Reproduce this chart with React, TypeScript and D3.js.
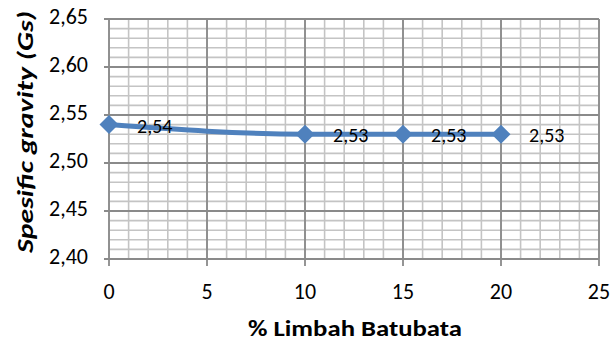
import React from "react";
import * as d3 from "d3";

// Specific gravity vs. % brick waste
const wastePct = [0, 10, 15, 20];
const gsValues = [2.54, 2.53, 2.53, 2.53];
const xTicks = [0, 5, 10, 15, 20, 25];
const yTicks = [2.4, 2.45, 2.5, 2.55, 2.6, 2.65];

const W = 613;
const H = 342;
const FONT = "Carlito, Lato, 'Open Sans', sans-serif";

export default function App() {
  const x = d3.scaleLinear().domain([0, 25]).range([109, 599]);
  const y = d3.scaleLinear().domain([2.4, 2.65]).range([259, 19]);

  const minorX = d3.range(0, 26, 1);
  const minorY = d3.range(0, 26).map((i) => 2.4 + i * 0.01);

  const pts: [number, number][] = wastePct.map((v, i) => [v, gsValues[i]]);
  const line = d3
    .line<[number, number]>()
    .x((d) => x(d[0]))
    .y((d) => y(d[1]))
    .curve(d3.curveMonotoneX);

  const fmt = (v: number) => v.toFixed(2).replace(".", ",");
  const diamond = (cx: number, cy: number, r: number) =>
    `M${cx},${cy - r}L${cx + r},${cy}L${cx},${cy + r}L${cx - r},${cy}Z`;

  return (
    <svg
      width={W}
      height={H}
      style={{ position: "absolute", left: 0, top: 0, background: "#fff" }}
      fontFamily={FONT}
    >
      {/* minor grid */}
      <g stroke="#c4c4c4" strokeWidth={1.6}>
        {minorX.map((v) => (
          <line key={"mx" + v} x1={x(v)} x2={x(v)} y1={y(2.4)} y2={y(2.65)} />
        ))}
        {minorY.map((v, i) => (
          <line key={"my" + i} x1={x(0)} x2={x(25)} y1={y(v)} y2={y(v)} />
        ))}
      </g>
      {/* major grid + ticks */}
      <g stroke="#8a8a8a" strokeWidth={1.8}>
        {xTicks.map((v) => (
          <line key={"gx" + v} x1={x(v)} x2={x(v)} y1={y(2.65)} y2={y(2.4) + 7} />
        ))}
        {yTicks.map((v) => (
          <line key={"gy" + v} x1={x(0) - 5} x2={x(25)} y1={y(v)} y2={y(v)} />
        ))}
      </g>
      {/* tick labels */}
      <g fontSize={22} fill="#000">
        {yTicks.map((v) => (
          <text key={"ty" + v} x={88} y={y(v) - 3} dy="0.35em" textAnchor="end">
            {fmt(v)}
          </text>
        ))}
        {xTicks.map((v) => (
          <text key={"tx" + v} x={x(v)} y={291} dy="0.35em" textAnchor="middle">
            {v}
          </text>
        ))}
      </g>
      {/* series */}
      <path d={line(pts) ?? ""} fill="none" stroke="#4f81bd" strokeWidth={5} />
      {pts.map((d, i) => (
        <path key={"m" + i} d={diamond(x(d[0]), y(d[1]), 9.5)} fill="#4f81bd" />
      ))}
      {pts.map((d, i) => (
        <text
          key={"l" + i}
          x={x(d[0]) + 28}
          y={y(d[1]) + 1}
          dy="0.35em"
          fontSize={20}
          fill="#000"
        >
          {fmt(d[1])}
        </text>
      ))}
      {/* axis titles */}
      <text
        x={248}
        y={328}
        dy="0.35em"
        fontSize={23}
        fontWeight="bold"
        textLength={214}
        lengthAdjust="spacingAndGlyphs"
      >
        % Limbah Batubata
      </text>
      <text
        transform="translate(25,253) rotate(-90)"
        dy="0.35em"
        fontSize={23}
        fontWeight="bold"
        fontStyle="italic"
        textLength={242}
        lengthAdjust="spacingAndGlyphs"
      >
        Spesific gravity (Gs)
      </text>
    </svg>
  );
}
